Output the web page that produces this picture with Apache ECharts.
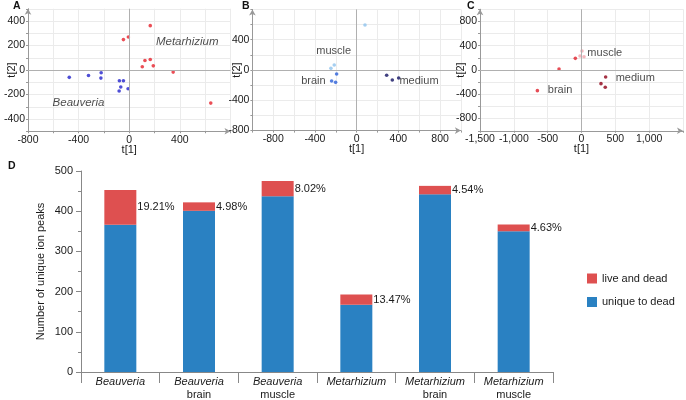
<!DOCTYPE html>
<html><head><meta charset="utf-8">
<script src="https://cdn.jsdelivr.net/npm/echarts@6/dist/echarts.min.js"></script>
<style>html,body{margin:0;padding:0;background:#fff}#c{width:686px;height:400px}</style>
</head><body><div id="c"></div>
<script>
// ---- Panel A (t[1], t[2]) ----
const aBeauveria = [[-474,-60],[-322,-45],[-222,-23],[-224,-66],[-78,-88],[-46,-88],[-67,-139],[-80,-172],[-9,-153]];
const aMetarhizium = [[-46,248],[-7,270],[166,362],[103,26],[124,78],[166,86],[190,34],[347,-17],[644,-270]];
const aLabels = [[458,229,'Metarhizium'],[-401,-264,'Beauveria']];
// ---- Panel B ----
const bMuscle = [[80,594],[-215,66],[-247,22]];
const bBrain = [[-192,-53],[-240,-145],[-202,-163]];
const bMedium = [[288,-70],[342,-132],[403,-106]];
const bLabels = [[-220,255,'muscle'],[-415,-145,'brain'],[598,-145,'medium']];
// ---- Panel C ----
const cMuscle = [[7,313],[-22,230],[37,219]];
const cBrain = [[-652,-340],[-332,16],[-91,192]];
const cMedium = [[357,-115],[288,-225],[351,-285]];
const cLabels = [[344,275,'muscle'],[794,-127,'medium'],[-317,-329,'brain']];
// ---- Panel D ----
const dGenus = ['Beauveria','Beauveria','Beauveria','Metarhizium','Metarhizium','Metarhizium'];
const dTissue = ['','brain','muscle','','brain','muscle'];
const dUnique = [366,401,437,167,442,350];
const dLiveDead = [87,21,38,26,21,17];
const dPercent = ['19.21%','4.98%','8.02%','13.47%','4.54%','4.63%'];
const dYTicks = [0,100,200,300,400,500];

const FONT = 'Liberation Sans, Arial, sans-serif';
const TXT = '#1a1a1a';

function fmt(v){ return v.toLocaleString('en-US'); }
function sAxis(gi, min, max, interval, step, isX, nameGap){
  return {
    type:'value', gridIndex:gi, min:min, max:max, interval:interval,
    name: isX ? 't[1]' : 't[2]', nameLocation:'middle', nameGap:nameGap, nameMoveOverlap:false,
    nameTextStyle:{fontFamily:FONT, fontSize:11, color:TXT},
    axisLine:{show:true, onZero:false, symbol:['none','arrow'], symbolSize:[5,6], lineStyle:{color:'#999', width:1}},
    axisTick:{show:true, length:2, lineStyle:{color:'#999'}},
    axisLabel:{fontFamily:FONT, fontSize:10.5, color:TXT, margin:3, showMinLabel:true, showMaxLabel:true,
      formatter: v => (v !== max && Math.abs(v % step) < 1e-6) ? fmt(v) : ''},
    splitLine:{show:true, lineStyle:{color:'#ebebeb', width:1}}
  };
}
function pts(data, color, xi){
  return {type:'scatter', xAxisIndex:xi, yAxisIndex:xi, data:data, symbol:'circle', symbolSize:3.6,
    itemStyle:{color:color}, silent:true};
}
function zero(xi){
  return {type:'scatter', xAxisIndex:xi, yAxisIndex:xi, data:[], silent:true,
    markLine:{silent:true, symbol:'none', label:{show:false}, animation:false,
      lineStyle:{color:'#b0b0b0', type:'solid', width:1},
      data:[{xAxis:0},{yAxis:0}]}};
}
function notes(arr, xi, italic, size){
  return {type:'scatter', xAxisIndex:xi, yAxisIndex:xi, symbolSize:0, silent:true,
    data: arr.map(a => ({value:[a[0],a[1]], name:a[2]})),
    label:{show:true, position:'inside', formatter: p => p.name, fontFamily:FONT, fontSize:size,
      fontStyle: italic ? 'italic' : 'normal', color:TXT, align:'center', verticalAlign:'middle'}};
}

const chart = echarts.init(document.getElementById('c'), null, {renderer:'canvas'});
const option = {
  animation:false,
  backgroundColor:'#fff',
  textStyle:{fontFamily:FONT},
  title:[
    {text:'A', left:13, top:1, padding:0, textStyle:{fontSize:10.5, fontWeight:'bold', color:'#111', fontFamily:FONT}},
    {text:'B', left:242, top:1, padding:0, textStyle:{fontSize:10.5, fontWeight:'bold', color:'#111', fontFamily:FONT}},
    {text:'C', left:467, top:1, padding:0, textStyle:{fontSize:10.5, fontWeight:'bold', color:'#111', fontFamily:FONT}},
    {text:'D', left:8, top:161, padding:0, textStyle:{fontSize:10.5, fontWeight:'bold', color:'#111', fontFamily:FONT}}
  ],
  grid:[
    {left:28, top:8.75, width:202.5, height:122.5},
    {left:252.4, top:9.4, width:208.5, height:121.2},
    {left:480, top:9.25, width:203, height:121.5},
    {left:81, top:171, width:472, height:202.3}
  ],
  xAxis:[
    sAxis(0,-800,800,200,400,true,13),
    sAxis(1,-1000,1000,200,400,true,13),
    sAxis(2,-1500,1500,500,500,true,13),
    {type:'category', gridIndex:3, data:dGenus.map((g,i)=>g+(dTissue[i]?' '+dTissue[i]:'')),
      axisLine:{lineStyle:{color:'#888'}},
      axisTick:{show:true, length:11, interval:0, alignWithLabel:false, lineStyle:{color:'#888'}},
      axisLabel:{interval:0, margin:3, color:TXT, fontFamily:FONT,
        formatter:(v,i)=>'{i|'+dGenus[i]+'}'+(dTissue[i]?'\n{n|'+dTissue[i]+'}':''),
        rich:{i:{fontStyle:'italic', fontSize:11, lineHeight:13, color:TXT, fontFamily:FONT},
              n:{fontSize:11, lineHeight:13, color:TXT, fontFamily:FONT}}}}
  ],
  yAxis:[
    sAxis(0,-500,500,100,200,false,11),
    sAxis(1,-800,800,200,400,false,10),
    sAxis(2,-1000,1000,200,400,false,14),
    {type:'value', gridIndex:3, min:dYTicks[0], max:dYTicks[dYTicks.length-1], interval:100,
      name:'Number of unique ion peaks', nameLocation:'middle', nameGap:35, nameMoveOverlap:false,
      nameTextStyle:{fontSize:11, color:TXT, fontFamily:FONT},
      axisLine:{show:true, lineStyle:{color:'#888'}},
      axisTick:{show:true, length:5, lineStyle:{color:'#888'}},
      minorTick:{show:true, splitNumber:2, length:3, lineStyle:{color:'#888'}},
      axisLabel:{fontSize:11, color:TXT, margin:8, fontFamily:FONT},
      splitLine:{show:false}}
  ],
  legend:{left:582, top:268, orient:'vertical', itemWidth:10, itemHeight:10, itemGap:12.5, icon:'rect',
    textStyle:{fontSize:11, color:TXT, fontFamily:FONT}, data:['live and dead','unique to dead']},
  series:[
    zero(0), zero(1), zero(2),
    pts(aBeauveria,'#2222cc',0), pts(aMetarhizium,'#e6222c',0), notes(aLabels,0,true,11.5),
    pts(bMuscle,'#8ec3ee',1), pts(bBrain,'#2a5fd8',1), pts(bMedium,'#121262',1), notes(bLabels,1,false,11),
    pts(cMuscle,'#f2a6ae',2), pts(cBrain,'#e0202c',2), pts(cMedium,'#8e0016',2), notes(cLabels,2,false,11),
    {name:'unique to dead', type:'bar', xAxisIndex:3, yAxisIndex:3, stack:'d', barWidth:32,
      itemStyle:{color:'#2a81c2'}, data:dUnique},
    {name:'live and dead', type:'bar', xAxisIndex:3, yAxisIndex:3, stack:'d', barWidth:32,
      itemStyle:{color:'#de5050'}, data:dLiveDead,
      label:{show:true, position:'right', distance:1, fontSize:11, color:TXT, fontFamily:FONT,
        formatter:p=>dPercent[p.dataIndex]}}
  ]
};
chart.setOption(option);
</script></body></html>
